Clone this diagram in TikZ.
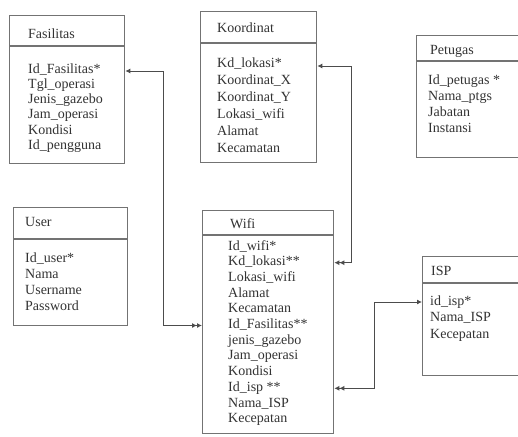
\documentclass[tikz,border=0pt]{standalone}
\usepackage{fontspec}
\setmainfont{Liberation Serif}
\usetikzlibrary{arrows.meta}

\begin{document}
\begin{tikzpicture}[x=1pt,y=-1pt,
   tabel/.style={draw=black!55,line width=1.3pt,anchor=north west,inner sep=0pt},
   judul/.style={anchor=west,inner sep=0pt,text=black!80,font=\fontsize{14}{16}\selectfont},
   atribut/.style={anchor=west,inner sep=0pt,text height=9pt,text depth=3pt,text=black!80,font=\fontsize{14}{16}\selectfont},
   relasi/.style={draw=black!70,line width=0.9pt,
      {Latex[length=5pt,width=5pt]Latex[length=5pt,width=5pt]}-{Latex[length=5pt,width=5pt]}}]
   \useasboundingbox (0,0) rectangle (518,436);
   \clip (0,0) rectangle (518,436);
   \fill[white] (0,0) rectangle (518,436);
   % Fasilitas
   \node[tabel,minimum width=115pt,minimum height=148pt] (fasilitas) at (9,15) {};
   \draw[black!55,line width=1.3pt] ([yshift=-31pt]fasilitas.north west) -- ([yshift=-31pt]fasilitas.north east);
   \node[judul] (fasjudul) at (28,34) {Fasilitas};
   \foreach \t [count=\i from 0] in {Id\_Fasilitas*,Tgl\_operasi,Jenis\_gazebo,Jam\_operasi,Kondisi,Id\_pengguna}
      \node[atribut] (fas\i) at (28,{70+15.3*\i}) {\t};
   % Koordinat
   \node[tabel,minimum width=116pt,minimum height=151pt] (koordinat) at (200,11) {};
   \draw[black!55,line width=1.3pt] ([yshift=-32pt]koordinat.north west) -- ([yshift=-32pt]koordinat.north east);
   \node[judul] (korjudul) at (217,28) {Koordinat};
   \foreach \t [count=\i from 0] in {Kd\_lokasi*,Koordinat\_X,Koordinat\_Y,Lokasi\_wifi,Alamat,Kecamatan}
      \node[atribut] (kor\i) at (217,{64+17*\i}) {\t};
   % Petugas
   \node[tabel,minimum width=124pt,minimum height=122pt] (petugas) at (416,35) {};
   \draw[black!55,line width=1.3pt] ([yshift=-26pt]petugas.north west) -- ([yshift=-26pt]petugas.north east);
   \node[judul] (petjudul) at (430,51) {Petugas};
   \foreach \t [count=\i from 0] in {Id\_petugas *,Nama\_ptgs,Jabatan,Instansi}
      \node[atribut] (pet\i) at (428,{81+16*\i}) {\t};
   % User
   \node[tabel,minimum width=114pt,minimum height=118pt] (user) at (13,207) {};
   \draw[black!55,line width=1.3pt] ([yshift=-32pt]user.north west) -- ([yshift=-32pt]user.north east);
   \node[judul] (userjudul) at (25,222) {User};
   \foreach \t [count=\i from 0] in {Id\_user*,Nama,Username,Password}
      \node[atribut] (user\i) at (25,{259+16.3*\i}) {\t};
   % Wifi
   \node[tabel,minimum width=131pt,minimum height=223pt] (wifi) at (202,210) {};
   \draw[black!55,line width=1.3pt] ([yshift=-25pt]wifi.north west) -- ([yshift=-25pt]wifi.north east);
   \node[judul] (wifijudul) at (230,224) {Wifi};
   \foreach \t [count=\i from 0] in {Id\_wifi*,Kd\_lokasi**,Lokasi\_wifi,Alamat,Kecamatan,Id\_Fasilitas**,jenis\_gazebo,Jam\_operasi,Kondisi,Id\_isp **,Nama\_ISP,Kecepatan}
      \node[atribut] (wifi\i) at (228,{247+15.7*\i}) {\t};
   % ISP
   \node[tabel,minimum width=120pt,minimum height=119pt] (isp) at (422,256) {};
   \draw[black!55,line width=1.3pt] ([yshift=-27pt]isp.north west) -- ([yshift=-27pt]isp.north east);
   \node[judul] (ispjudul) at (431,271) {ISP};
   \foreach \t [count=\i from 0] in {id\_isp*,Nama\_ISP,Kecepatan}
      \node[atribut] (isp\i) at (430,{302+16.5*\i}) {\t};
   % relasi
   \draw[relasi] (wifi.west |- wifi5) -- ++(-39,0) |- ([yshift=-1pt]fasilitas.east |- fas0);
   \draw[relasi] (wifi.east |- wifi1) -- ++(17,0) |- ([yshift=-2pt]koordinat.east |- kor0);
   \draw[relasi] (wifi.east |- wifi9) -- ++(40,0) |- (isp.west |- isp0);
\end{tikzpicture}
\end{document}
